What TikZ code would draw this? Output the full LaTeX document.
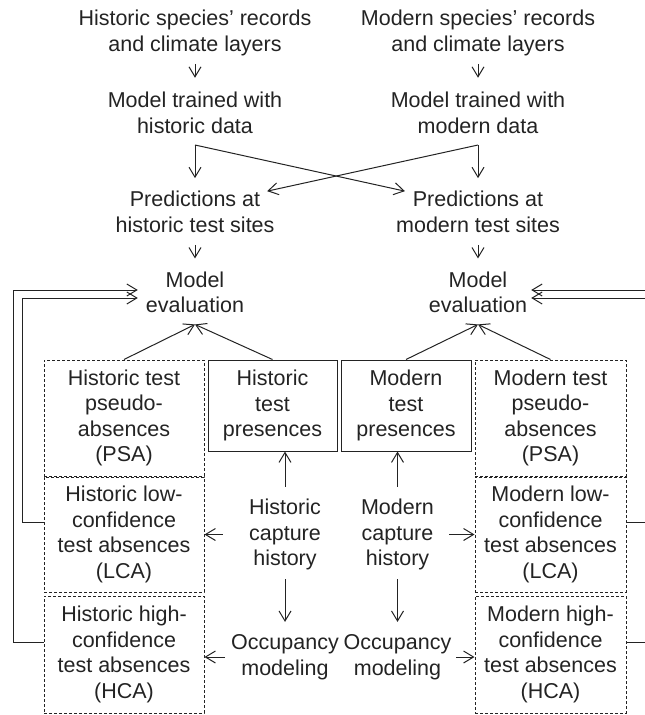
\documentclass[tikz,border=0pt]{standalone}
\usepackage{fontspec}
\setmainfont{Liberation Sans}
\usetikzlibrary{arrows.meta}
\definecolor{ink}{RGB}{35,35,35}
\begin{document}
\begin{tikzpicture}[x=1pt,y=-1pt,
 txt/.style={font=\fontsize{21.5}{25.5}\selectfont, align=center, inner sep=0pt, text=ink},
 sbox/.style={txt, draw=ink, line width=1pt},
 dbox/.style={txt, draw=ink, line width=1pt, dash pattern=on 3pt off 2pt},
 arr/.style={draw=ink, line width=1pt, -{Straight Barb[length=10pt,width=12pt]}}]
\useasboundingbox (0,0) rectangle (645,715);
\clip (0,0) rectangle (645,715);

% upper text nodes
\node[txt] (hsrc) at (195,33) {Historic species’ records\\and climate layers};
\node[txt] (msrc) at (478,33) {Modern species’ records\\and climate layers};
\node[txt] (hmodel) at (195,113) {Model trained with\\historic data};
\node[txt] (mmodel) at (478,113) {Model trained with\\modern data};
\node[txt] (hpred) at (195,212) {Predictions at\\historic test sites};
\node[txt] (mpred) at (478,212) {Predictions at\\modern test sites};
\node[txt] (heval) at (195,292.3) {Model\\evaluation};
\node[txt] (meval) at (478,292.3) {Model\\evaluation};

% boxes
\node[dbox, minimum width=160pt, minimum height=116pt] (hpsa) at (124,418) {Historic test\\pseudo-\\absences\\(PSA)};
\node[sbox, minimum width=129pt, minimum height=91pt] (hpres) at (272.5,405.5) {Historic\\test\\presences};
\node[sbox, minimum width=130pt, minimum height=91pt] (mpres) at (406,405.5) {Modern\\test\\presences};
\node[dbox, minimum width=151pt, minimum height=116pt] (mpsa) at (550.5,418) {Modern test\\pseudo-\\absences\\(PSA)};
\node[dbox, minimum width=160pt, minimum height=115pt] (hlca) at (124,534.5) {Historic low-\\confidence\\test absences\\(LCA)};
\node[dbox, minimum width=151pt, minimum height=115pt] (mlca) at (550.5,534.5) {Modern low-\\confidence\\test absences\\(LCA)};
\node[dbox, minimum width=160pt, minimum height=117pt] (hhca) at (124,654.5) {Historic high-\\confidence\\test absences\\(HCA)};
\node[dbox, minimum width=151pt, minimum height=117pt] (mhca) at (550.5,654.5) {Modern high-\\confidence\\test absences\\(HCA)};

% middle text
\node[txt] (hcap) at (285,534.5) {Historic\\capture\\history};
\node[txt] (mcap) at (397.5,534.5) {Modern\\capture\\history};
\node[txt] (hocc) at (285,657) {Occupancy\\modeling};
\node[txt] (mocc) at (397.5,657) {Occupancy\\modeling};

\coordinate (hx) at (195,145);
\coordinate (mx) at (478,145);

% connectors
\draw[arr, shorten <=8pt, shorten >=14.4pt] (hsrc.south) -- (hmodel.north);
\draw[arr, shorten <=8pt, shorten >=14.4pt] (msrc.south) -- (mmodel.north);
\draw[arr, shorten >=13pt] (hx) -- (hpred.north);
\draw[arr, shorten >=13pt] (mx) -- (mpred.north);
\draw[arr] (hx) -- ([xshift=9pt]mpred.north west);
\draw[arr] (mx) -- ([xshift=-7.5pt]hpred.north east);
\draw[arr, shorten <=12pt, shorten >=13pt] (hpred.south) -- (heval.north);
\draw[arr, shorten <=12pt, shorten >=13pt] (mpred.south) -- (meval.north);

\draw[arr] (hpsa.north) -- ([yshift=-11.3pt]heval.south);
\draw[arr] (hpres.north) -- ([yshift=-11.3pt]heval.south);
\draw[arr] (mpres.north) -- ([yshift=-11.3pt]meval.south);
\draw[arr] (mpsa.north) -- ([yshift=-11.3pt]meval.south);

\draw[arr, shorten <=12pt] (hcap.north) -- (hcap.north |- hpres.south);
\draw[arr, shorten <=12pt] (mcap.north) -- (mcap.north |- mpres.south);
\draw[arr, shorten <=9pt, shorten >=12.4pt] (hcap.south) -- (hocc.north);
\draw[arr, shorten <=9pt, shorten >=12.4pt] (mcap.south) -- (mocc.north);
\draw[arr, shorten <=26pt] (hcap.west) -- (hcap.west -| hlca.east);
\draw[arr, shorten <=15pt] (mcap.east) -- (mcap.east -| mlca.west);
\draw[arr, shorten <=6pt] (hocc.west) -- (hocc.west -| hhca.east);
\draw[arr, shorten <=5pt] (mocc.east) -- (mocc.east -| mhca.west);

% feedback loops
\draw[arr, shorten >=8pt] ([yshift=12.5pt]hhca.west) -- ++(-30,0) |- ([yshift=2.3pt]heval.west);
\draw[arr, shorten >=8pt] ([yshift=12.5pt]hlca.west) -- ++(-21,0) |- ([yshift=-5.7pt]heval.west);
\draw[arr, shorten >=4pt] ([yshift=12.5pt]mhca.east) -- ++(30,0) |- ([yshift=2.3pt]meval.east);
\draw[arr, shorten >=4pt] ([yshift=12.5pt]mlca.east) -- ++(21,0) |- ([yshift=-5.7pt]meval.east);
\end{tikzpicture}
\end{document}
